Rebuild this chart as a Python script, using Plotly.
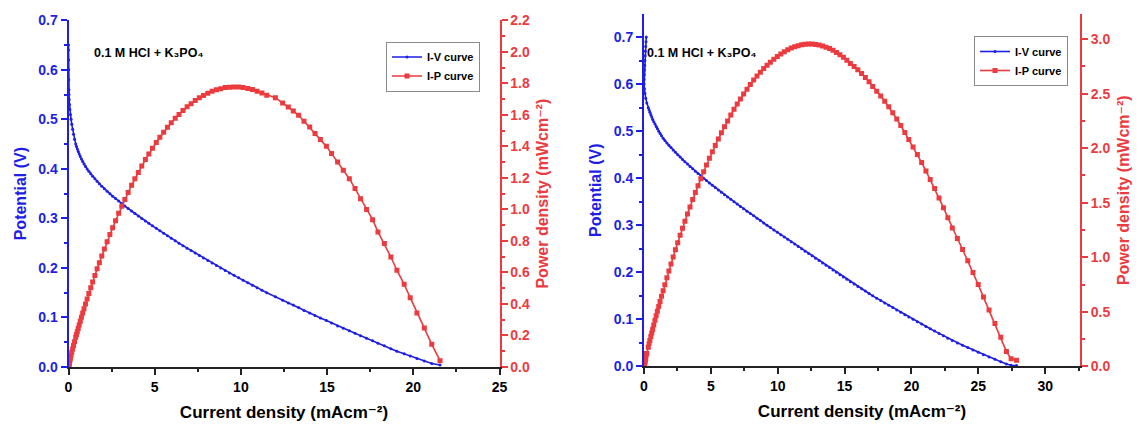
import plotly.graph_objects as go

# ---------------- Left panel data ----------------
cd_a = [0.00, 0.00, 0.005, 0.01, 0.015, 0.025, 0.03, 0.04, 0.06, 0.08, 0.11, 0.15, 0.19, 0.24, 0.29, 0.35,
        0.42, 0.463, 0.51, 0.563, 0.62, 0.683, 0.75, 0.823, 0.90, 0.985, 1.08, 1.18, 1.29, 1.40, 1.53, 1.66,
        1.79, 1.93, 2.08, 2.24, 2.40, 2.56, 2.73, 2.91, 3.09, 3.27, 3.46, 3.66, 3.85, 4.05, 4.25, 4.46, 4.66,
        4.87, 5.09, 5.30, 5.52, 5.74, 5.96, 6.19, 6.41, 6.64, 6.88, 7.11, 7.35, 7.59, 7.83, 8.08, 8.33, 8.58,
        8.83, 9.09, 9.34, 9.60, 9.87, 10.13, 10.40, 10.67, 10.94, 11.22, 11.50,
        12.0, 12.42, 12.75, 13.04, 13.35, 13.66, 13.99, 14.30, 14.61, 14.96, 15.26, 15.61, 15.94, 16.29, 16.62,
        16.94, 17.29, 17.64, 17.95, 18.32, 18.70, 19.05, 19.47, 19.82, 20.21, 20.64, 21.07, 21.55]
pot_a = [0.650, 0.640, 0.620, 0.600, 0.580, 0.560, 0.550, 0.540, 0.530, 0.520, 0.510, 0.500, 0.490, 0.480, 0.470, 0.460,
         0.450, 0.445, 0.440, 0.435, 0.430, 0.425, 0.420, 0.415, 0.410, 0.405, 0.400, 0.395, 0.390, 0.385, 0.380, 0.375,
         0.370, 0.365, 0.360, 0.355, 0.350, 0.345, 0.340, 0.335, 0.330, 0.325, 0.320, 0.315, 0.310, 0.305, 0.300, 0.295, 0.290,
         0.285, 0.280, 0.275, 0.270, 0.265, 0.260, 0.255, 0.250, 0.245, 0.240, 0.235, 0.230, 0.225, 0.220, 0.215, 0.210, 0.205,
         0.200, 0.195, 0.190, 0.185, 0.180, 0.175, 0.170, 0.165, 0.160, 0.155, 0.150,
         0.142, 0.135, 0.129, 0.125, 0.120, 0.114, 0.109, 0.104, 0.099, 0.094, 0.089, 0.083, 0.078, 0.073, 0.068,
         0.063, 0.058, 0.053, 0.048, 0.043, 0.037, 0.032, 0.027, 0.022, 0.017, 0.012, 0.007, 0.004]
pow_a = [0.000, 0.000, 0.003, 0.006, 0.009, 0.014, 0.017, 0.022, 0.032, 0.042, 0.056, 0.075, 0.093, 0.115, 0.136, 0.161,
         0.189, 0.206, 0.224, 0.245, 0.267, 0.290, 0.315, 0.342, 0.369, 0.399, 0.432, 0.466, 0.503, 0.539, 0.581, 0.623,
         0.662, 0.704, 0.749, 0.795, 0.840, 0.883, 0.928, 0.975, 1.020, 1.063, 1.107, 1.153, 1.194, 1.235, 1.275, 1.316, 1.351,
         1.388, 1.425, 1.458, 1.490, 1.521, 1.550, 1.578, 1.603, 1.627, 1.651, 1.671, 1.691, 1.708, 1.723, 1.737, 1.749, 1.759,
         1.766, 1.773, 1.775, 1.776, 1.777, 1.773, 1.768, 1.761, 1.750, 1.739, 1.725,
         1.709, 1.675, 1.650, 1.624, 1.597, 1.559, 1.523, 1.481, 1.443, 1.400, 1.354, 1.301, 1.248, 1.195, 1.132,
         1.068, 0.999, 0.935, 0.857, 0.783, 0.698, 0.614, 0.525, 0.440, 0.343, 0.247, 0.144, 0.040]

# ---------------- Right panel data ----------------
cd_b = [0.17, 0.15, 0.12, 0.10, 0.08, 0.06, 0.05, 0.03, 0.02, 0.01, 0.01, 0.03, 0.07, 0.13, 0.21,
        0.32, 0.38, 0.44, 0.51, 0.58, 0.65, 0.73, 0.82, 0.91, 1.00, 1.10, 1.20, 1.31, 1.43, 1.56, 1.71,
        1.86, 2.02, 2.18, 2.35, 2.52, 2.70, 2.88, 3.06, 3.25, 3.44, 3.64, 3.84, 4.04, 4.25, 4.46, 4.67,
        4.89, 5.11, 5.33, 5.56, 5.79, 6.02, 6.25, 6.49, 6.73, 6.97, 7.21, 7.45, 7.70, 7.95, 8.20, 8.45,
        8.70, 8.95, 9.20, 9.45, 9.71, 9.97, 10.23, 10.49, 10.75, 11.01, 11.27, 11.53, 11.79, 12.05, 12.31,
        12.57, 12.83, 13.09, 13.35, 13.61, 13.87, 14.13, 14.39, 14.65, 14.91, 15.17, 15.43, 15.71, 15.99,
        16.27, 16.55, 16.83, 17.10, 17.40, 17.70, 18.00, 18.30, 18.60, 18.90, 19.20, 19.50, 19.80, 20.12,
        20.44, 20.76, 21.08, 21.40, 21.73, 22.06, 22.39, 22.72, 23.05, 23.43, 23.82, 24.21, 24.60, 24.99,
        25.38, 25.80, 26.24, 26.68, 27.10, 27.45, 27.85]
pot_b = [0.700, 0.690, 0.680, 0.670, 0.660, 0.650, 0.640, 0.630, 0.620, 0.610, 0.600, 0.590, 0.580, 0.570, 0.560,
         0.550, 0.545, 0.540, 0.535, 0.530, 0.525, 0.520, 0.515, 0.510, 0.505, 0.500, 0.495, 0.490, 0.485, 0.480, 0.475,
         0.470, 0.465, 0.460, 0.455, 0.450, 0.445, 0.440, 0.435, 0.430, 0.425, 0.420, 0.415, 0.410, 0.405, 0.400, 0.395,
         0.390, 0.385, 0.380, 0.375, 0.370, 0.365, 0.360, 0.355, 0.350, 0.345, 0.340, 0.335, 0.330, 0.325, 0.320, 0.315,
         0.310, 0.305, 0.300, 0.295, 0.290, 0.285, 0.280, 0.275, 0.270, 0.265, 0.260, 0.255, 0.250, 0.245, 0.240,
         0.235, 0.230, 0.225, 0.220, 0.215, 0.210, 0.205, 0.200, 0.195, 0.190, 0.185, 0.180, 0.175, 0.170,
         0.165, 0.160, 0.155, 0.150, 0.145, 0.140, 0.135, 0.130, 0.125, 0.120, 0.115, 0.110, 0.105, 0.100,
         0.095, 0.090, 0.085, 0.080, 0.075, 0.070, 0.065, 0.060, 0.055, 0.050, 0.045, 0.040, 0.035, 0.030,
         0.025, 0.020, 0.015, 0.010, 0.005, 0.0025, 0.002]
pow_b = [0.119, 0.104, 0.082, 0.067, 0.053, 0.039, 0.032, 0.019, 0.012, 0.006, 0.006, 0.018, 0.041, 0.074, 0.118,
         0.176, 0.207, 0.238, 0.273, 0.307, 0.341, 0.380, 0.422, 0.464, 0.505, 0.550, 0.594, 0.642, 0.694, 0.749, 0.812,
         0.874, 0.939, 1.003, 1.069, 1.134, 1.202, 1.267, 1.331, 1.398, 1.462, 1.529, 1.594, 1.656, 1.721, 1.784, 1.845,
         1.907, 1.967, 2.025, 2.085, 2.142, 2.197, 2.250, 2.304, 2.356, 2.405, 2.451, 2.496, 2.541, 2.584, 2.624, 2.662,
         2.697, 2.730, 2.760, 2.788, 2.816, 2.841, 2.864, 2.885, 2.903, 2.918, 2.930, 2.940, 2.948, 2.952, 2.954,
         2.954, 2.951, 2.945, 2.937, 2.926, 2.913, 2.897, 2.878, 2.857, 2.833, 2.806, 2.777, 2.749, 2.718,
         2.685, 2.648, 2.609, 2.565, 2.523, 2.478, 2.430, 2.379, 2.325, 2.268, 2.208, 2.145, 2.079, 2.012,
         1.942, 1.868, 1.792, 1.712, 1.630, 1.544, 1.455, 1.363, 1.268, 1.172, 1.072, 0.968, 0.861, 0.750,
         0.635, 0.516, 0.394, 0.267, 0.136, 0.069, 0.056]

x_ticks_a = [0, 5, 10, 15, 20, 25]
x_ticks_b = [0, 5, 10, 15, 20, 25, 30]
series_names = ["I-V curve", "I-P curve"]
label_text = "<b>0.1 M HCl + K₃PO₄</b>"
x_title = "Current density (mAcm⁻²)"
y_title_left = "Potential (V)"
y_title_right = "Power density (mWcm⁻²)"

BLUE = "#1e1ee6"
RED = "#ec3b3f"
DARK = "#222222"
FONT = "Liberation Sans, Arial, DejaVu Sans, sans-serif"
W, H = 1139, 427


def px_x(p):
    return p / W


def px_y(p):
    return 1 - p / H


fig = go.Figure()

fig.add_trace(go.Scatter(x=cd_a, y=pot_a, mode="lines+markers", name=series_names[0],
                         line=dict(color=BLUE, width=1.6), marker=dict(color=BLUE, size=3),
                         xaxis="x", yaxis="y", legend="legend"))
fig.add_trace(go.Scatter(x=cd_a, y=pow_a, mode="lines+markers", name=series_names[1],
                         line=dict(color=RED, width=1.6), marker=dict(color=RED, size=5, symbol="square"),
                         xaxis="x", yaxis="y2", legend="legend"))
fig.add_trace(go.Scatter(x=cd_b, y=pot_b, mode="lines+markers", name=series_names[0],
                         line=dict(color=BLUE, width=1.6), marker=dict(color=BLUE, size=3),
                         xaxis="x2", yaxis="y3", legend="legend2"))
fig.add_trace(go.Scatter(x=cd_b, y=pow_b, mode="lines+markers", name=series_names[1],
                         line=dict(color=RED, width=1.6), marker=dict(color=RED, size=5, symbol="square"),
                         xaxis="x2", yaxis="y4", legend="legend2"))


def xaxis_bottom(domain, rng, ticks, anchor):
    return dict(domain=domain, range=rng, anchor=anchor, tickvals=ticks, ticks="outside",
                ticklen=6, tickwidth=1.5, tickcolor=DARK, showline=True, linecolor=DARK, linewidth=2,
                showgrid=False, zeroline=False, automargin=False,
                tickfont=dict(family=FONT, size=14, color="black", weight="bold"),
                title=dict(text=x_title, standoff=12,
                           font=dict(family=FONT, size=17, color="black", weight="bold")),
                minor=dict(ticks="outside", ticklen=3, tickwidth=1.5, tickcolor=DARK, dtick=2.5,
                           tick0=0, showgrid=False))


def xaxis_top(over, rng, ticks, anchor):
    return dict(overlaying=over, side="top", anchor=anchor, range=rng, tickvals=ticks,
                ticks="inside", ticklen=6, tickwidth=1.5, tickcolor=DARK, showline=True,
                linecolor=DARK, linewidth=2, showticklabels=False, showgrid=False, zeroline=False,
                automargin=False,
                minor=dict(ticks="inside", ticklen=3, tickwidth=1.5, tickcolor=DARK, dtick=2.5,
                           tick0=0, showgrid=False))


def yaxis_side(domain, rng, dtick, color, title, side, anchor, over=None):
    d = dict(domain=domain, range=rng, anchor=anchor, side=side, dtick=dtick, tick0=0,
             tickformat=".1f", ticks="outside", ticklen=6, tickwidth=1.5, tickcolor=color,
             showline=True, linecolor=color, linewidth=2, showgrid=False, zeroline=False,
             automargin=False,
             tickfont=dict(family=FONT, size=14, color=color, weight="bold"),
             title=dict(text=title, standoff=8, font=dict(family=FONT, size=16, color=color, weight="bold")),
             minor=dict(ticks="outside", ticklen=3, tickwidth=1.5, tickcolor=color, dtick=dtick / 2,
                        tick0=0, showgrid=False))
    if over:
        d["overlaying"] = over
        d.pop("domain")
    return d


dom_xa = [px_x(68.5), px_x(499.5)]
dom_ya = [px_y(367.0), px_y(20.3)]
dom_xb = [px_x(644.0), px_x(1080.0)]
dom_yb = [px_y(366.4), px_y(14.0)]

legend_style = dict(xanchor="left", yanchor="top", bgcolor="white", bordercolor="#8a8a8a", borderwidth=1,
                    font=dict(family=FONT, size=11, color="black", weight="bold"),
                    itemwidth=30, tracegroupgap=0)

fig.update_layout(
    width=W, height=H, margin=dict(l=0, r=0, t=0, b=0),
    paper_bgcolor="white", plot_bgcolor="white", template="none",
    font=dict(family=FONT, color="black"),
    xaxis=xaxis_bottom(dom_xa, [0, 25], x_ticks_a, "y"),
    xaxis3=xaxis_top("x", [0, 25], x_ticks_a, "y"),
    yaxis=yaxis_side(dom_ya, [0, 0.7], 0.1, BLUE, y_title_left, "left", "x"),
    yaxis2=yaxis_side(dom_ya, [0, 2.2], 0.2, RED, y_title_right, "right", "x", over="y"),
    xaxis2=xaxis_bottom(dom_xb, [0, 32.6], x_ticks_b, "y3"),
    xaxis4=xaxis_top("x2", [0, 32.6], x_ticks_b, "y3"),
    yaxis3=yaxis_side(dom_yb, [0, 0.749], 0.1, BLUE, y_title_left, "left", "x2"),
    yaxis4=yaxis_side(dom_yb, [0, 3.23], 0.5, RED, y_title_right, "right", "x2", over="y3"),
    legend=dict(x=px_x(386), y=px_y(41.5), **legend_style),
    legend2=dict(x=px_x(974), y=px_y(36), **legend_style),
    showlegend=True,
    annotations=[
        dict(text=label_text, x=px_x(92), y=px_y(53), xref="paper", yref="paper",
             xanchor="left", yanchor="middle", showarrow=False,
             font=dict(family=FONT, size=12.5, color="black")),
        dict(text=label_text, x=px_x(645), y=px_y(53), xref="paper", yref="paper",
             xanchor="left", yanchor="middle", showarrow=False,
             font=dict(family=FONT, size=12.5, color="black")),
    ],
)

fig.write_html("out.html")
